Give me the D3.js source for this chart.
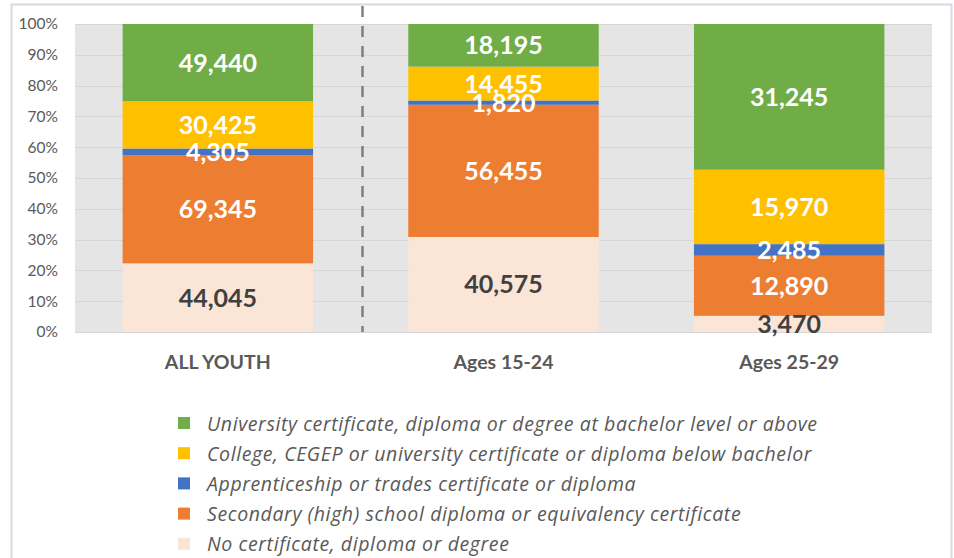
<!DOCTYPE html>
<html>
<head>
<meta charset="utf-8">
<script src="https://cdn.jsdelivr.net/npm/d3@7"></script>
<style>
  html, body { margin: 0; padding: 0; background: #fff; }
  svg { display: block; font-family: Lato, "Open Sans", sans-serif; }
</style>
</head>
<body>
<svg id="chart" width="954" height="558"></svg>
<script>
// ---- data ----
const categories = ["ALL YOUTH", "Ages 15-24", "Ages 25-29"];
const seriesNames = [
  "No certificate, diploma or degree",
  "Secondary (high) school diploma or equivalency certificate",
  "Apprenticeship or trades certificate or diploma",
  "College, CEGEP or university certificate or diploma below bachelor",
  "University certificate, diploma or degree at bachelor level or above"
];
const noCertificate = [44045, 40575, 3470];
const secondary = [69345, 56455, 12890];
const apprenticeship = [4305, 1820, 2485];
const college = [30425, 14455, 15970];
const university = [49440, 18195, 31245];
const yTicks = [0, 0.1, 0.2, 0.3, 0.4, 0.5, 0.6, 0.7, 0.8, 0.9, 1.0];
const colors = ["#FBE5D6", "#ED7D31", "#4472C4", "#FFC000", "#70AD47"];
const labelColors = ["#404040", "#fff", "#fff", "#fff", "#fff"];

const seriesValues = [noCertificate, secondary, apprenticeship, college, university];
const keys = ["s0", "s1", "s2", "s3", "s4"];
const table = categories.map((c, i) => {
  const row = { category: c };
  keys.forEach((k, j) => row[k] = seriesValues[j][i]);
  return row;
});

// ---- layout ----
const svg = d3.select("#chart");
const plot = { left: 75, right: 932, top: 24, bottom: 332 };

// chart border
svg.append("rect")
  .attr("x", 11.5).attr("y", 4.5)
  .attr("width", 940).attr("height", 600)
  .attr("fill", "#fff")
  .attr("stroke", "#D5DAE3").attr("stroke-width", 2);

const x = d3.scaleBand()
  .domain(categories)
  .range([plot.left, plot.right])
  .paddingInner(1/3).paddingOuter(1/6);

const y = d3.scaleLinear().domain([0, 1]).range([plot.bottom, plot.top]);

// plot background
svg.append("rect")
  .attr("x", plot.left).attr("y", plot.top)
  .attr("width", plot.right - plot.left).attr("height", plot.bottom - plot.top)
  .attr("fill", "#E5E5E5");

// gridlines
svg.append("g")
  .selectAll("line")
  .data(yTicks)
  .join("line")
  .attr("x1", plot.left).attr("x2", plot.right)
  .attr("y1", d => Math.round(y(d)) + 0.5).attr("y2", d => Math.round(y(d)) + 0.5)
  .attr("stroke", "#D6D6D6").attr("stroke-width", 1.2);

// y axis
const yAxis = svg.append("g")
  .attr("transform", `translate(${plot.left},0)`)
  .call(d3.axisLeft(y).tickValues(yTicks).tickFormat(d3.format(".0%")).tickSize(0).tickPadding(17));
yAxis.select(".domain").remove();
yAxis.selectAll("text")
  .attr("fill", "#595959")
  .style("font-size", "15.5px")
  .style("font-family", "Lato, sans-serif");

// stacked bars
const stack = d3.stack().keys(keys).offset(d3.stackOffsetExpand);
const layers = stack(table);

const g = svg.append("g");
layers.forEach((layer, j) => {
  g.append("g")
    .selectAll("rect")
    .data(layer)
    .join("rect")
    .attr("x", d => x(d.data.category))
    .attr("width", x.bandwidth())
    .attr("y", d => y(d[1]))
    .attr("height", d => y(d[0]) - y(d[1]))
    .attr("fill", colors[j]);
});

// data labels
layers.forEach((layer, j) => {
  g.append("g")
    .selectAll("text")
    .data(layer)
    .join("text")
    .attr("x", d => x(d.data.category) + x.bandwidth() / 2)
    .attr("y", d => (y(d[0]) + y(d[1])) / 2)
    .attr("dy", "0.36em")
    .attr("text-anchor", "middle")
    .attr("fill", labelColors[j])
    .style("font-size", "25px")
    .style("font-weight", "bold")
    .text(d => d3.format(",")(d.data[keys[j]]));
});

// dashed separator
svg.append("line")
  .attr("x1", 362.5).attr("x2", 362.5)
  .attr("y1", 6).attr("y2", plot.bottom)
  .attr("stroke", "#7F7F7F").attr("stroke-width", 2.5)
  .attr("stroke-dasharray", "11,9");

// x axis labels
const xAxis = svg.append("g")
  .attr("transform", `translate(0,${plot.bottom})`)
  .call(d3.axisBottom(x).tickSize(0).tickPadding(23));
xAxis.select(".domain").remove();
xAxis.selectAll("text")
  .attr("fill", "#595959")
  .style("font-size", "19.5px")
  .style("font-weight", "bold")
  .style("font-family", "Lato, sans-serif");

// legend
const legendOrder = [4, 3, 2, 1, 0];
const legend = svg.append("g");
legendOrder.forEach((j, i) => {
  const cy = 423 + i * 30.2;
  legend.append("rect")
    .attr("x", 178).attr("y", cy - 6)
    .attr("width", 12).attr("height", 12)
    .attr("fill", colors[j]);
  legend.append("text")
    .attr("x", 207).attr("y", cy + 7.5)
    .attr("fill", "#595959")
    .style("font-family", "'Open Sans', sans-serif")
    .style("font-size", "19.5px")
    .style("letter-spacing", "0.6px")
    .style("font-style", "italic")
    .text(seriesNames[j]);
});
</script>
</body>
</html>
